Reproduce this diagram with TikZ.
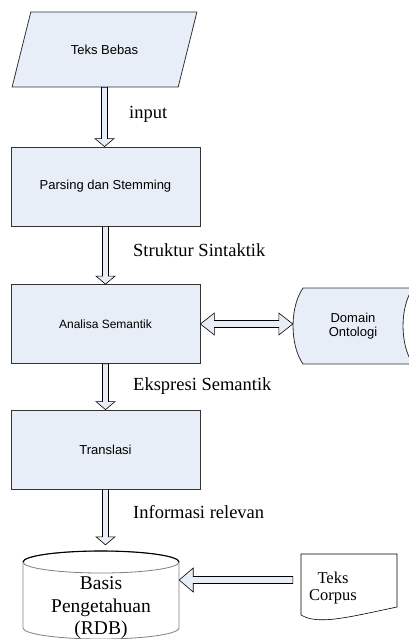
\documentclass[tikz,border=0pt]{standalone}
\usepackage{fontspec}
\setmainfont{Liberation Serif}
\newfontfamily\boxfont{Liberation Sans}
\usetikzlibrary{calc,shapes.geometric}
\definecolor{paleblue}{RGB}{232,238,247}
\tikzset{
  procline/.style={draw=black!80, line width=0.8pt},
  procbox/.style={procline, fill=paleblue, minimum width=189pt, minimum height=79pt,
    font=\boxfont\fontsize{13}{15}\selectfont},
  inputbox/.style={procline, fill=paleblue, trapezium, trapezium left angle=60,
    trapezium right angle=120, trapezium stretches=true, minimum width=185pt,
    minimum height=75pt, font=\boxfont\fontsize{13}{15}\selectfont},
  flowlabel/.style={anchor=base west, inner sep=0pt, font=\fontsize{18.5}{20}\selectfont},
  cylline/.style={draw=black!50, line width=0.8pt},
  hollowline/.style={draw=black, fill=paleblue, line width=0.6pt, line join=miter},
  hollow/.style args={#1/#2/#3}{to path={let \p1=($(\tikztotarget)!#3!(\tikztostart)$) in
    ($(\tikztostart)!#1!90:(\tikztotarget)$) -- ($(\p1)!#1!90:(\tikztotarget)$)
    -- ($(\p1)!#2!90:(\tikztotarget)$) -- (\tikztotarget)
    -- ($(\p1)!#2!-90:(\tikztotarget)$) -- ($(\p1)!#1!-90:(\tikztotarget)$)
    -- ($(\tikztostart)!#1!-90:(\tikztotarget)$) -- cycle}},
  hollowboth/.style args={#1/#2/#3}{to path={let \p1=($(\tikztotarget)!#3!(\tikztostart)$),
    \p2=($(\tikztostart)!#3!(\tikztotarget)$) in
    (\tikztostart) -- ($(\p2)!#2!90:(\tikztotarget)$) -- ($(\p2)!#1!90:(\tikztotarget)$)
    -- ($(\p1)!#1!90:(\tikztotarget)$) -- ($(\p1)!#2!90:(\tikztotarget)$)
    -- (\tikztotarget)
    -- ($(\p1)!#2!-90:(\tikztotarget)$) -- ($(\p1)!#1!-90:(\tikztotarget)$)
    -- ($(\p2)!#1!-90:(\tikztotarget)$) -- ($(\p2)!#2!-90:(\tikztotarget)$) -- cycle}},
}
\begin{document}
\begin{tikzpicture}[x=1pt,y=-1pt]
\useasboundingbox (0,0) rectangle (409,639);
\clip (0,0) rectangle (409,639);

% flow
\node[inputbox] (teks) at (104.5,49.5) {Teks Bebas};
\node[procbox] (parse) at (105.5,186.5) {Parsing dan Stemming};
\node[procbox, font=\boxfont\fontsize{12}{14}\selectfont] (ana) at (105.5,324) {Analisa Semantik};
\node[procbox] (trans) at (105.5,449.5) {Translasi};

% ontologi
\draw[procline, fill=paleblue] (303,288) -- (413,288)
  .. controls (399.7,307) and (399.7,345) .. (413,364) -- (303,364)
  .. controls (289.7,345) and (289.7,307) .. (303,288) -- cycle;
\node[inner sep=0pt, align=center, minimum width=120pt, minimum height=76pt,
  font=\boxfont\fontsize{13}{14}\selectfont] (onto) at (353,326) {Domain\\Ontologi};

% basis pengetahuan
\draw[cylline, fill=white] (23,562) -- (23,628)
  arc[start angle=180, end angle=0, x radius=78, y radius=11] -- (179,562);
\draw[cylline] (101,562) ellipse[x radius=78, y radius=11];
\draw[black, line width=1.1pt] (23,562) arc[start angle=180, end angle=360, x radius=78, y radius=11];
\node[inner sep=0pt, align=center, minimum width=156pt, minimum height=126pt,
  font=\fontsize{19.5}{22.5}\selectfont] (rdb) at (101,608) {Basis\\Pengetahuan\\(RDB)};

% teks corpus
\node[inner sep=0pt, minimum width=112pt, minimum height=53pt] (corpus) at (349,580) {};
\draw[draw=black, line width=0.6pt, fill=white] (301,554) -- (397,554) -- (397,607)
  .. controls (345,618) and (318,625) .. (301,615) -- cycle;
\node[inner sep=0pt, align=center, font=\fontsize{16.5}{17}\selectfont] (corpustxt)
  at (333,587.6) {Teks\\Corpus};

% panah
\draw[hollowline, hollow=3pt/9.5pt/8pt] (teks.south) to (teks.south |- parse.north);
\draw[hollowline, hollow=3pt/9.5pt/8pt] (parse.south) to (ana.north);
\draw[hollowline, hollow=3pt/9.5pt/8pt] (ana.south) to (trans.north);
\draw[hollowline, hollow=3pt/9.5pt/8pt] (trans.south) to (trans.south |- rdb.north);
\draw[hollowline, hollowboth=3.5pt/11pt/14pt] (ana.east) to (ana.east -| onto.west);
\draw[hollowline, hollow=3.5pt/12pt/14pt] (corpus.west) to (rdb.east |- corpus.west);

\node[flowlabel] (lbinput) at (129,119) {input};
\node[flowlabel] (lbsintak) at (133,256) {Struktur Sintaktik};
\node[flowlabel] (lbekspr) at (133,390) {Ekspresi Semantik};
\node[flowlabel] (lbinfo) at (133,518) {Informasi relevan};
\end{tikzpicture}
\end{document}
